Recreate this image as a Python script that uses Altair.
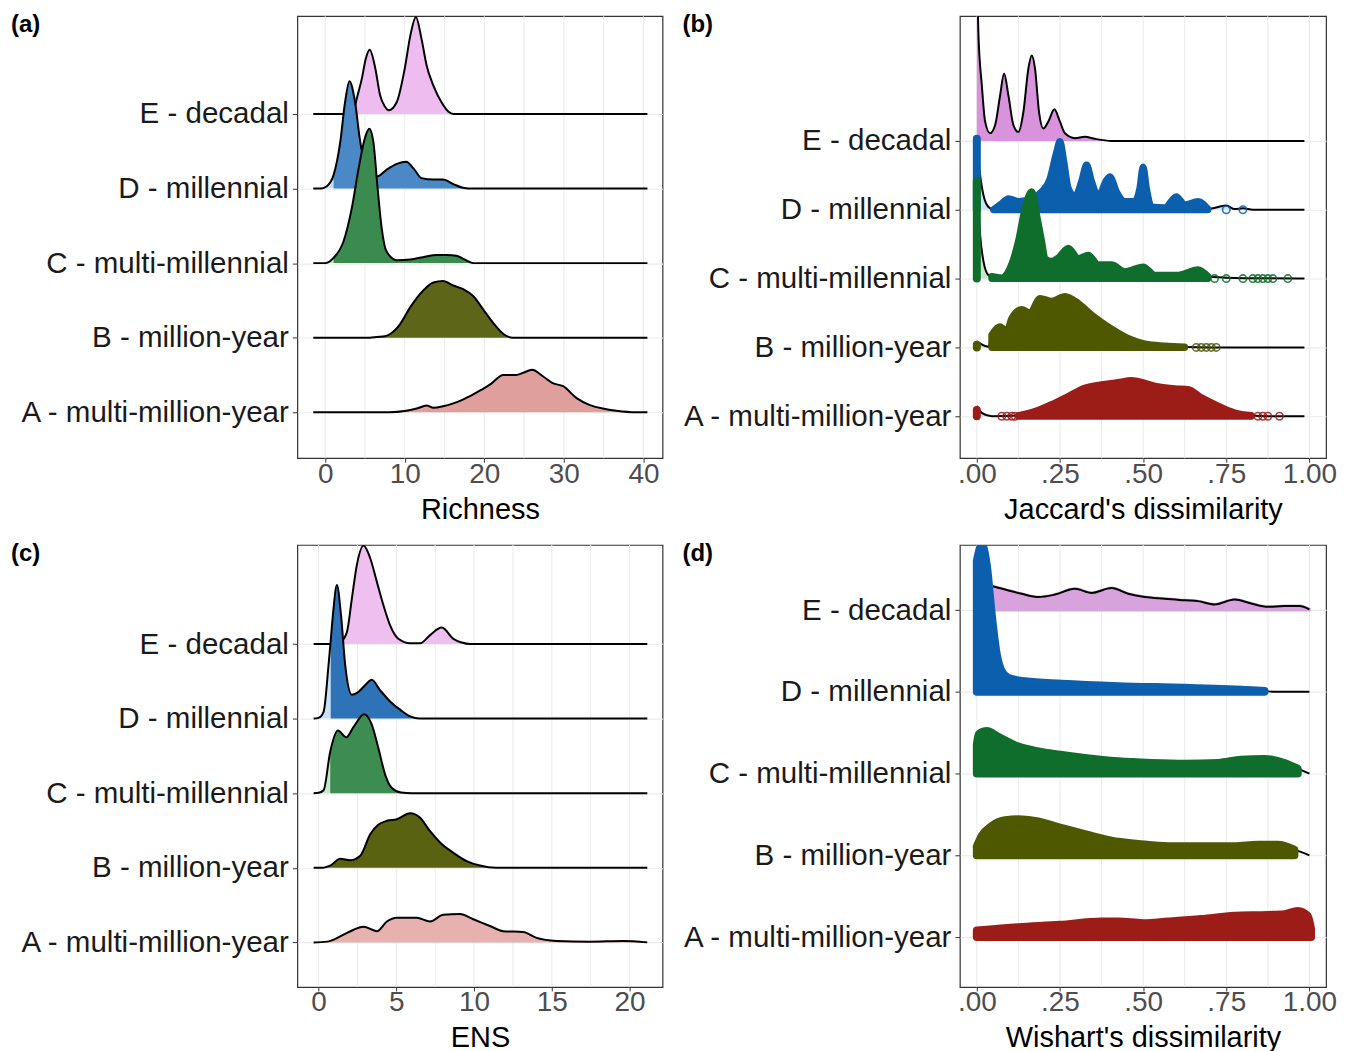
import altair as alt
import pandas as pd

# ------------------------------------------------------------------ labels
CATS = ["A - multi-million-year", "B - million-year", "C - multi-millennial",
        "D - millennial", "E - decadal"]
LEVEL = {"A": 1, "B": 2, "C": 3, "D": 4, "E": 5}
ORDER = ["E", "D", "C", "B", "A"]          # top ridge drawn first

# ------------------------------------------------------------------ panel (a) Richness
a_E_x = [-1.5, 3.2, 3.6, 4.0, 4.6, 5.1, 5.6, 6.3, 6.9, 7.5, 8.0, 9.0, 10.0, 10.7, 11.4, 12.1, 12.75, 13.6, 14.6, 15.5, 16.1, 40.5]
a_E_h = [0, 0, 0.05, 0.22, 0.47, 0.74, 0.86, 0.61, 0.25, 0.10, 0.05, 0.16, 0.61, 1.05, 1.30, 1.01, 0.65, 0.38, 0.16, 0.03, 0, 0]
a_D_x = [-1.5, -0.5, 0.2, 1.05, 1.9, 2.5, 3.05, 3.75, 4.4, 5.2, 6.5, 7.7, 9.0, 10.2, 11.1, 12.1, 13.6, 14.8, 16.1, 17.3, 18.0, 40.5]
a_D_h = [0, 0, 0.03, 0.18, 0.63, 1.16, 1.44, 1.16, 0.63, 0.27, 0.16, 0.25, 0.33, 0.36, 0.27, 0.14, 0.12, 0.12, 0.06, 0.01, 0, 0]
a_C_x = [-1.5, 0.0, 1.05, 2.3, 3.35, 4.2, 5.0, 5.55, 6.05, 6.55, 7.1, 7.7, 9.0, 10.7, 12.3, 14.0, 15.3, 16.5, 17.5, 18.6, 40.5]
a_C_h = [0, 0, 0.07, 0.29, 0.74, 1.27, 1.68, 1.80, 1.63, 1.05, 0.47, 0.16, 0.04, 0.05, 0.08, 0.11, 0.11, 0.10, 0.05, 0, 0]
a_B_x = [-1.5, 5.6, 6.5, 7.5, 8.15, 9.4, 10.7, 12.3, 13.6, 14.8, 16.1, 17.35, 18.6, 19.85, 21.1, 22.4, 23.6, 40.5]
a_B_h = [0, 0, 0.01, 0.02, 0.05, 0.18, 0.41, 0.63, 0.74, 0.76, 0.70, 0.65, 0.56, 0.38, 0.20, 0.05, 0, 0]
a_A_x = [-1.5, 8.0, 10.2, 11.5, 12.75, 13.6, 14.8, 16.1, 17.3, 18.6, 19.6, 20.7, 22.4, 24.0, 24.9, 26.0, 27.4, 28.6, 29.9, 31.6, 33.2, 34.9, 36.6, 39.1, 40.5]
a_A_h = [0, 0, 0.02, 0.05, 0.09, 0.06, 0.08, 0.12, 0.17, 0.24, 0.30, 0.37, 0.50, 0.50, 0.53, 0.57, 0.48, 0.39, 0.35, 0.19, 0.10, 0.05, 0.02, 0, 0]

# ------------------------------------------------------------------ panel (b) Jaccard
b_E_x = [0, 0.005, 0.015, 0.025, 0.04, 0.055, 0.07, 0.082, 0.095, 0.11, 0.125, 0.14, 0.155, 0.165, 0.175, 0.187, 0.20, 0.215, 0.233, 0.25, 0.265, 0.295, 0.325, 0.355, 0.405, 0.985]
b_E_h = [2.4, 1.53, 0.81, 0.28, 0.11, 0.23, 0.66, 0.98, 0.66, 0.23, 0.13, 0.42, 1.05, 1.24, 1.05, 0.42, 0.18, 0.28, 0.46, 0.28, 0.11, 0.04, 0.06, 0.03, 0, 0]
b_D_x = [0, 0.01, 0.02, 0.035, 0.05, 0.075, 0.095, 0.125, 0.165, 0.195, 0.22, 0.24, 0.25, 0.26, 0.275, 0.295, 0.315, 0.33, 0.345, 0.365, 0.39, 0.40, 0.42, 0.445, 0.475, 0.49, 0.50, 0.51, 0.525, 0.565, 0.60, 0.625, 0.665, 0.695, 0.75, 0.775, 0.80, 0.83, 0.985]
b_D_h = [0.95, 0.50, 0.21, 0.04, 0.0, 0.09, 0.16, 0.12, 0.16, 0.26, 0.45, 0.84, 0.99, 0.75, 0.31, 0.19, 0.41, 0.65, 0.41, 0.19, 0.43, 0.48, 0.26, 0.12, 0.12, 0.31, 0.62, 0.31, 0.04, 0.03, 0.19, 0.07, 0.12, 0.01, 0.06, 0.01, 0.02, 0, 0]
b_C_x = [0, 0.01, 0.02, 0.035, 0.045, 0.075, 0.10, 0.125, 0.145, 0.165, 0.18, 0.195, 0.205, 0.225, 0.245, 0.275, 0.305, 0.335, 0.365, 0.405, 0.445, 0.50, 0.535, 0.605, 0.665, 0.695, 0.775, 0.875, 0.985]
b_C_h = [1.46, 0.63, 0.25, 0.05, 0.03, 0.01, 0.15, 0.54, 1.02, 1.26, 0.92, 0.54, 0.29, 0.25, 0.30, 0.44, 0.29, 0.34, 0.20, 0.20, 0.10, 0.17, 0.05, 0.05, 0.13, 0.03, 0.01, 0.005, 0]
b_B_x = [0, 0.012, 0.025, 0.035, 0.045, 0.07, 0.09, 0.105, 0.135, 0.16, 0.19, 0.225, 0.265, 0.305, 0.345, 0.385, 0.425, 0.465, 0.505, 0.565, 0.625, 0.70, 0.985]
b_B_h = [0.09, 0.05, 0.02, 0.01, 0.18, 0.30, 0.23, 0.42, 0.55, 0.50, 0.71, 0.67, 0.74, 0.64, 0.47, 0.33, 0.21, 0.11, 0.05, 0.02, 0.005, 0, 0]
b_A_x = [0, 0.015, 0.045, 0.125, 0.175, 0.225, 0.275, 0.325, 0.375, 0.425, 0.465, 0.505, 0.545, 0.595, 0.635, 0.675, 0.725, 0.775, 0.825, 0.875, 0.985]
b_A_h = [0.15, 0.05, 0.0, 0.01, 0.07, 0.17, 0.29, 0.41, 0.46, 0.49, 0.52, 0.48, 0.43, 0.40, 0.39, 0.27, 0.15, 0.05, 0.01, 0, 0]
# isolated observations in the tails and stacked columns at zero
b_tails = {"D": [0.75, 0.80],
           "C": [0.715, 0.75, 0.80, 0.83, 0.845, 0.86, 0.875, 0.89, 0.935],
           "B": [0.66, 0.675, 0.69, 0.705, 0.72],
           "A": [0.075, 0.09, 0.105, 0.115, 0.845, 0.86, 0.875, 0.91]}
b_zero = {"D": 1.03, "C": 1.42, "B": 0.04, "A": 0.09}

# ------------------------------------------------------------------ panel (c) ENS
c_E_x = [-0.32, 1.2, 1.4, 1.82, 2.14, 2.46, 2.89, 3.32, 3.75, 4.17, 4.6, 5.13, 5.89, 6.53, 7.17, 7.92, 8.67, 9.2, 9.74, 21.14]
c_E_h = [0, 0, 0.02, 0.16, 0.61, 1.06, 1.32, 1.15, 0.83, 0.52, 0.25, 0.07, 0.01, 0.01, 0.12, 0.22, 0.07, 0.02, 0, 0]
c_D_x = [-0.32, 0.0, 0.32, 0.64, 0.78, 0.92, 1.18, 1.44, 1.71, 2.14, 2.57, 3.0, 3.42, 3.96, 4.6, 5.24, 5.89, 6.5, 21.14]
c_D_h = [0, 0.01, 0.09, 0.72, 1.05, 1.39, 1.79, 1.39, 0.72, 0.32, 0.36, 0.45, 0.52, 0.38, 0.23, 0.12, 0.03, 0, 0]
c_C_x = [-0.32, 0.0, 0.32, 0.75, 1.24, 1.78, 2.25, 2.93, 3.42, 3.85, 4.28, 4.71, 5.3, 6.0, 21.14]
c_C_h = [0, 0.005, 0.04, 0.56, 0.84, 0.75, 0.89, 1.06, 0.92, 0.60, 0.25, 0.07, 0.01, 0, 0]
c_B_x = [-0.32, 0.3, 0.75, 1.39, 2.03, 2.68, 3.32, 3.85, 4.39, 5.03, 5.89, 6.53, 7.17, 7.81, 8.67, 9.52, 10.38, 11.4, 21.14]
c_B_h = [0, 0, 0.03, 0.12, 0.10, 0.16, 0.45, 0.58, 0.63, 0.65, 0.73, 0.67, 0.49, 0.34, 0.20, 0.09, 0.03, 0, 0]
c_A_x = [-0.32, 0.54, 1.39, 2.25, 2.89, 3.75, 4.39, 5.03, 6.31, 7.17, 8.02, 9.09, 9.95, 11.02, 11.87, 13.16, 14.02, 15.3, 17.44, 19.58, 21.14]
c_A_h = [0, 0.01, 0.08, 0.17, 0.21, 0.15, 0.28, 0.33, 0.33, 0.28, 0.37, 0.38, 0.31, 0.22, 0.15, 0.14, 0.06, 0.02, 0.01, 0.02, 0]

# ------------------------------------------------------------------ panel (d) Wishart
d_E_x = [0, 0.05, 0.095, 0.135, 0.185, 0.235, 0.295, 0.345, 0.405, 0.455, 0.505, 0.565, 0.625, 0.665, 0.715, 0.775, 0.825, 0.875, 0.925, 0.97, 1.0]
d_E_h = [0.32, 0.29, 0.24, 0.20, 0.16, 0.19, 0.26, 0.21, 0.27, 0.20, 0.16, 0.14, 0.12, 0.11, 0.07, 0.13, 0.08, 0.04, 0.05, 0.05, 0.01]
d_D_x = [0, 0.015, 0.03, 0.045, 0.06, 0.075, 0.095, 0.145, 0.255, 0.425, 0.625, 0.825, 0.865, 0.9, 1.0]
d_D_h = [1.6, 1.80, 1.55, 0.94, 0.46, 0.25, 0.17, 0.13, 0.10, 0.07, 0.05, 0.02, 0.01, 0.0, 0]
d_C_x = [0, 0.005, 0.03, 0.065, 0.125, 0.185, 0.25, 0.325, 0.425, 0.525, 0.625, 0.725, 0.795, 0.865, 0.925, 0.965, 1.0]
d_C_h = [0.35, 0.48, 0.52, 0.45, 0.33, 0.27, 0.23, 0.19, 0.15, 0.13, 0.12, 0.13, 0.17, 0.18, 0.13, 0.06, 0]
d_B_x = [0, 0.015, 0.045, 0.085, 0.125, 0.175, 0.25, 0.325, 0.405, 0.485, 0.575, 0.675, 0.775, 0.845, 0.905, 0.955, 1.0]
d_B_h = [0.11, 0.24, 0.36, 0.43, 0.44, 0.42, 0.34, 0.26, 0.18, 0.14, 0.11, 0.11, 0.11, 0.13, 0.13, 0.07, 0]
d_A_x = [0, 0.125, 0.25, 0.375, 0.425, 0.5, 0.575, 0.675, 0.775, 0.875, 0.925, 0.965, 0.995, 1.005]
d_A_h = [0.08, 0.12, 0.15, 0.19, 0.19, 0.17, 0.19, 0.22, 0.26, 0.27, 0.28, 0.32, 0.26, 0.10]

# ------------------------------------------------------------------ axes
rich_ticks, rich_labels = [0, 10, 20, 30, 40], ["0", "10", "20", "30", "40"]
ens_ticks, ens_labels = [0, 5, 10, 15, 20], ["0", "5", "10", "15", "20"]
dis_ticks, dis_labels = [0, 0.25, 0.5, 0.75, 1.0], [".00", ".25", ".50", ".75", "1.00"]
rich_grid = [0, 5, 10, 15, 20, 25, 30, 35, 40]
ens_grid = [0, 2.5, 5, 7.5, 10, 12.5, 15, 17.5, 20]
dis_grid = [0, 0.125, 0.25, 0.375, 0.5, 0.625, 0.75, 0.875, 1.0]

# ------------------------------------------------------------------ styles
PURPLE, BLUE, GREEN, OLIVE, RED = "#b03cc0", "#0b5fad", "#0f6e2c", "#4e5800", "#9c1c17"
LBLUE, LGREEN, LOLIVE, LRED = "#c8e3f7", "#c3e6cc", "#d6d8a8", "#efc2bf"


def st(env, rng, light=None, stroke=0, line_top=True, op=1.0):
    return dict(env=env, rng=rng, light=light, stroke=stroke, line_top=line_top, op=op)


STY_A = {"E": st("#eebcef", (-9, 99)), "D": st("#4a88c6", (1.05, 99), light=LBLUE),
         "C": st("#3b8a50", (1.05, 99), light=LGREEN), "B": st("#5d6618", (-9, 99)),
         "A": st("#df9f9c", (-9, 99))}
STY_B = {"E": st("#d893dc", (-9, 99)),
         "D": st(BLUE, (0.045, 0.72), light=LBLUE, stroke=7, line_top=False),
         "C": st(GREEN, (0.045, 0.70), light=LGREEN, stroke=7, line_top=False),
         "B": st(OLIVE, (0.045, 0.66), light=LOLIVE, stroke=7, line_top=False),
         "A": st(RED, (0.125, 0.83), light=LRED, stroke=7, line_top=False)}
STY_C = {"E": st("#efbff0", (-9, 99)), "D": st("#2e72b8", (0.78, 99), light=LBLUE),
         "C": st("#3d8c52", (0.75, 99), light=LGREEN), "B": st("#586210", (-9, 99)),
         "A": st("#e6b1ae", (-9, 99))}
STY_D = {"E": st("#d8a2dd", (-9, 99), stroke=3),
         "D": st(BLUE, (0, 0.865), stroke=8, line_top=False),
         "C": st(GREEN, (0, 0.965), stroke=8, line_top=False),
         "B": st(OLIVE, (0, 0.955), stroke=8, line_top=False),
         "A": st(RED, (0, 1.005), stroke=8, line_top=False)}
TAILCOL = {"E": PURPLE, "D": BLUE, "C": GREEN, "B": OLIVE, "A": RED}


def label_expr(vals, labs):
    parts = [f"datum.value == {v} ? '{l}'" for v, l in zip(vals, labs)]
    return " : ".join(parts) + " : ''"


Y_EXPR = label_expr([1, 2, 3, 4, 5], CATS)


def panel(tag, curves, styles, xdom, ydom, ticks, labs, grid, xtitle, width, height, labx,
          tails=None, zero=None):
    tails = tails or {}
    zero = zero or {}
    xsc = alt.Scale(domain=xdom, nice=False, zero=False)
    ysc = alt.Scale(domain=ydom, nice=False, zero=False)
    xaxis = alt.Axis(values=ticks, labelExpr=label_expr(ticks, labs), title=xtitle, grid=False,
                     labelFlush=False)
    yaxis = alt.Axis(values=[1, 2, 3, 4, 5], labelExpr=Y_EXPR, title=None, grid=True, labelLimit=600)

    def X(f):
        return alt.X(f"{f}:Q", scale=xsc, axis=xaxis)

    def Y(f):
        return alt.Y(f"{f}:Q", scale=ysc, axis=yaxis)

    layers = [alt.Chart(pd.DataFrame({"gx": grid})).mark_rule(color="#ebebeb", strokeWidth=1.1)
              .encode(x=X("gx"), y=alt.value(0), y2=alt.value(height))]
    for r in ORDER:
        xs, hs = curves[r]
        base = LEVEL[r]
        df = pd.DataFrame({"x": xs, "h": hs})
        df["base"] = base
        df["top"] = base + df["h"]
        s = styles[r]
        if s["light"]:
            layers.append(alt.Chart(df).mark_area(color=s["light"], interpolate="monotone", clip=True)
                          .encode(x=X("x"), y=Y("top"), y2=alt.Y2("base:Q")))
        line = (alt.Chart(df).mark_line(color="black", strokeWidth=2, interpolate="monotone", clip=True)
                .encode(x=X("x"), y=Y("top")))
        if not s["line_top"]:
            layers.append(line)
        lo, hi = s["rng"]
        env = df[(df["x"] >= lo) & (df["x"] <= hi)]
        kw = dict(color=s["env"], opacity=s["op"], interpolate="monotone", clip=True)
        if s["stroke"]:
            kw.update(stroke=s["env"], strokeWidth=s["stroke"], strokeJoin="round")
        layers.append(alt.Chart(env).mark_area(**kw).encode(x=X("x"), y=Y("top"), y2=alt.Y2("base:Q")))
        if r in zero:
            zdf = pd.DataFrame({"x": [0.0], "y0": [base], "y1": [base + zero[r]]})
            layers.append(alt.Chart(zdf).mark_rule(color=TAILCOL[r], strokeWidth=8, strokeCap="round", clip=True)
                          .encode(x=X("x"), y=Y("y0"), y2=alt.Y2("y1:Q")))
        if r in tails:
            tdf = pd.DataFrame({"x": tails[r], "y": [base] * len(tails[r])})
            layers.append(alt.Chart(tdf).mark_point(shape="circle", filled=False, size=55, strokeWidth=1.6,
                                                    color=TAILCOL[r], opacity=0.85, clip=True)
                          .encode(x=X("x"), y=Y("y")))
        if s["line_top"]:
            layers.append(line)
    layers.append(alt.Chart(pd.DataFrame({"t": [tag]})).mark_text(
        align="left", baseline="middle", fontSize=24, fontWeight="bold", font="Liberation Sans",
        color="black").encode(x=alt.value(labx), y=alt.value(9), text="t:N"))
    return alt.layer(*layers).properties(width=width, height=height)


pa = panel("(a)", {"E": (a_E_x, a_E_h), "D": (a_D_x, a_D_h), "C": (a_C_x, a_C_h),
                   "B": (a_B_x, a_B_h), "A": (a_A_x, a_A_h)}, STY_A,
           [-3.5, 42.4], [0.385, 6.311], rich_ticks, rich_labels, rich_grid, "Richness", 366, 443, -287)
pb = panel("(b)", {"E": (b_E_x, b_E_h), "D": (b_D_x, b_D_h), "C": (b_C_x, b_C_h),
                   "B": (b_B_x, b_B_h), "A": (b_A_x, b_A_h)}, STY_B,
           [-0.051, 1.05], [0.391, 6.812], dis_ticks, dis_labels, dis_grid, "Jaccard's dissimilarity",
           367, 443, -278, tails=b_tails, zero=b_zero)
pc = panel("(c)", {"E": (c_E_x, c_E_h), "D": (c_D_x, c_D_h), "C": (c_C_x, c_C_h),
                   "B": (c_B_x, c_B_h), "A": (c_A_x, c_A_h)}, STY_C,
           [-1.367, 22.12], [0.402, 6.328], ens_ticks, ens_labels, ens_grid, "ENS", 366, 443, -287)
pd_ = panel("(d)", {"E": (d_E_x, d_E_h), "D": (d_D_x, d_D_h), "C": (d_C_x, d_C_h),
                    "B": (d_B_x, d_B_h), "A": (d_A_x, d_A_h)}, STY_D,
            [-0.051, 1.05], [0.389, 5.797], dis_ticks, dis_labels, dis_grid, "Wishart's dissimilarity",
            367, 443, -278)

chart = alt.vconcat(
    alt.hconcat(pa, pb, spacing=17),
    alt.hconcat(pc, pd_, spacing=17),
    spacing=16,
).properties(
    padding={"left": 2, "top": 3, "right": 5, "bottom": 5}
).configure_view(
    stroke="#333333", strokeWidth=1.2
).configure_axis(
    labelFont="Liberation Sans", titleFont="Liberation Sans", domain=False,
    tickColor="#333333", titleFontWeight="normal", titleColor="#000000", titleFontSize=29
).configure_axisX(
    labelFontSize=28, labelColor="#4d4d4d", tickSize=4, labelPadding=-2, titlePadding=7
).configure_axisY(
    labelFontSize=29.6, labelColor="#1a1a1a", tickSize=5, labelPadding=4,
    gridColor="#ebebeb", gridWidth=1.1
)

chart.save("out.html", embed_options={"renderer": "svg", "actions": False})
